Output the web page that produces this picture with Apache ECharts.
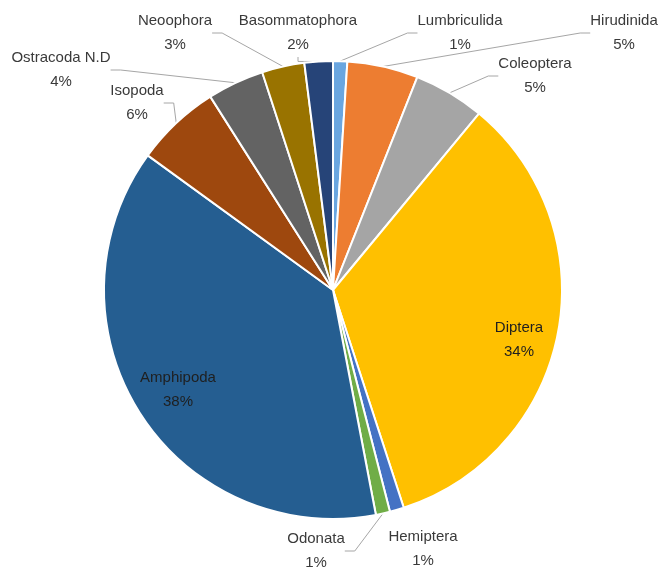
<!DOCTYPE html>
<html>
<head>
<meta charset="utf-8">
<script src="https://cdn.jsdelivr.net/npm/echarts@6/dist/echarts.min.js"></script>
<style>
  html, body { margin: 0; padding: 0; background: #ffffff; }
  #main { width: 665px; height: 573px; }
</style>
</head>
<body>
<div id="main"></div>
<script>
// slices, clockwise from 12 o'clock
var names = ['Lumbriculida', 'Hirudinida', 'Coleoptera', 'Diptera', 'Hemiptera', 'Odonata',
  'Amphipoda', 'Isopoda', 'Ostracoda N.D', 'Neoophora', 'Basommatophora'];
var percents = [1, 5, 5, 34, 1, 1, 38, 6, 4, 3, 2];
var colors = ['#6AA6E0', '#ED7D31', '#A5A5A5', '#FFC000', '#4472C4', '#70AD47',
  '#255E91', '#9E480E', '#636363', '#997300', '#264478'];

// where the labels sit (text block centre)
var labelPos = {
  'Lumbriculida': [460, 33],
  'Hirudinida': [624, 33],
  'Coleoptera': [535, 76],
  'Diptera': [519, 340],
  'Hemiptera': [423, 549],
  'Odonata': [316, 551],
  'Amphipoda': [178, 390],
  'Isopoda': [137, 103],
  'Ostracoda N.D': [61, 70],
  'Neoophora': [175, 33],
  'Basommatophora': [298, 33]
};
var insideNames = ['Diptera', 'Amphipoda'];
var noLine = ['Diptera', 'Amphipoda', 'Hemiptera'];

var chart = echarts.init(document.getElementById('main'));

var data = [];
for (var i = 0; i < names.length; i++) {
  var item = { name: names[i], value: percents[i], itemStyle: { color: colors[i] } };
  if (insideNames.indexOf(names[i]) >= 0) {
    item.label = { color: '#1f1f1f' };
  }
  if (noLine.indexOf(names[i]) >= 0) {
    item.labelLine = { show: false };
  }
  data.push(item);
}

var option = {
  backgroundColor: '#ffffff',
  animation: false,
  series: [{
    type: 'pie',
    center: [333, 290],
    radius: [0, 229],
    startAngle: 90,
    clockwise: true,
    itemStyle: {
      borderColor: '#ffffff',
      borderWidth: 2
    },
    label: {
      show: true,
      position: 'outside',
      formatter: '{b}\n{c}%',
      fontFamily: 'Liberation Sans, sans-serif',
      fontSize: 15,
      lineHeight: 24,
      color: '#3a3a3a',
      align: 'center'
    },
    labelLine: {
      show: true,
      length: 15,
      length2: 10,
      lineStyle: { color: '#A6A6A6', width: 1 }
    },
    labelLayout: function (params) {
      var name = names[params.dataIndex];
      var p = labelPos[name];
      var r = params.labelRect;
      return {
        x: p[0],
        y: p[1] - r.height / 2,
        align: 'center',
        verticalAlign: 'top'
      };
    },
    data: data
  }]
};

chart.setOption(option);
</script>
</body>
</html>
